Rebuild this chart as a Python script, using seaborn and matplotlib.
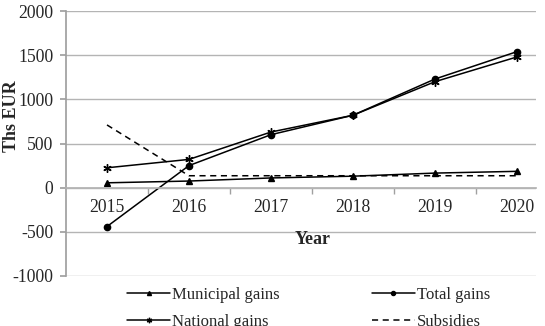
import matplotlib
matplotlib.use("Agg")
import matplotlib.pyplot as plt
import seaborn as sns
import pandas as pd

years = [2015, 2016, 2017, 2018, 2019, 2020]
municipal_gains = [55, 75, 110, 130, 165, 185]
total_gains = [-440, 250, 600, 820, 1230, 1540]
national_gains = [225, 320, 630, 820, 1200, 1480]
subsidies = [710, 135, 135, 135, 135, 135]
y_ticks = [-1000, -500, 0, 500, 1000, 1500, 2000]

sns.set_theme(style="white")
plt.rcParams["font.family"] = ["Liberation Serif", "DejaVu Serif"]

fig = plt.figure(figsize=(5.45, 3.26), dpi=100)
ax = fig.add_axes([66/545, 1-276/326, (536-66)/545, (276-11)/326])

series = [
    ("Municipal gains", municipal_gains, dict(marker="^", markersize=4.5, linestyle="-")),
    ("National gains", national_gains, dict(marker=(6, 2, 0), markersize=6, linestyle="-")),
    ("Total gains", total_gains, dict(marker="o", markersize=4.5, linestyle="-")),
    ("Subsidies", subsidies, dict(marker=None, linestyle=(0, (4, 3)))),
]

for name, vals, style in series:
    df = pd.DataFrame({"Year": years, "Value": vals})
    sns.lineplot(data=df, x="Year", y="Value", ax=ax, color="black",
                 linewidth=1.1, label=name, markeredgecolor="black",
                 markerfacecolor="black", markeredgewidth=1, **style)

ax.set_ylim(-1000, 2000)
ax.set_xlim(2014.5, 2020 + 19/82)
ax.set_yticks(y_ticks)
ax.set_yticklabels([str(v) for v in y_ticks], fontsize=12.7)
ax.yaxis.grid(True, color="#b4b4b4", linewidth=1)
ax.set_axisbelow(True)

for s in ["top", "right"]:
    ax.spines[s].set_visible(False)
ax.spines["left"].set_color("#a0a0a0")
ax.spines["bottom"].set_position(("data", 0))
ax.spines["bottom"].set_color("#b4b4b4")
ax.tick_params(axis="y", which="both", left=True, length=4, color="#a0a0a0", pad=5)

ax.set_xticks(years)
ax.set_xticklabels([str(y) for y in years], fontsize=12.7)
ax.set_xticks([2015.5, 2016.5, 2017.5, 2018.5, 2019.5], minor=True)
ax.tick_params(axis="x", which="major", length=0, pad=8)
ax.tick_params(axis="x", which="minor", bottom=True, length=4, color="#a0a0a0")

ax.set_xlabel("")
ax.set_ylabel("")
ax.text((313-66)/470, (276-240)/265, "Year", transform=ax.transAxes,
        ha="center", va="center", fontsize=13, fontweight="bold")
fig.text(12/545, 1-116/326, "Ths EUR", rotation=90, ha="center", va="center",
         fontsize=13, fontweight="bold")

h, l = ax.get_legend_handles_labels()
ax.legend(h, l, ncol=2, loc="upper left", bbox_to_anchor=(127/545, 1-287/326),
          bbox_transform=fig.transFigure, frameon=False, fontsize=12,
          handlelength=2.58, handletextpad=0.15, columnspacing=5.5,
          labelspacing=0.63, borderaxespad=0, borderpad=0, markerscale=0.65)

fig.savefig("out.png", dpi=100)
